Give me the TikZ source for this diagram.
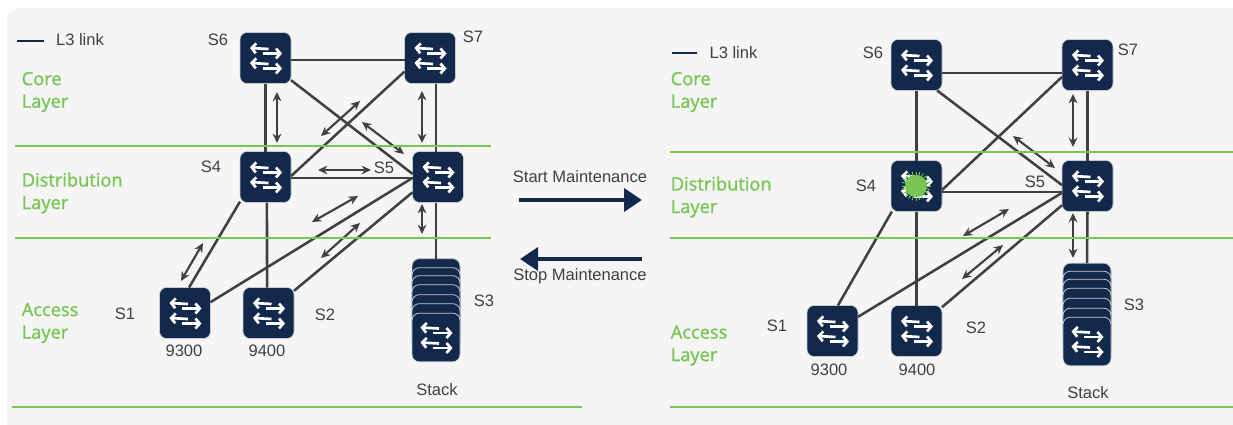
\documentclass[tikz,border=0pt]{standalone}
\usepackage{fontspec}
\setmainfont{Liberation Sans}
\newfontfamily\greenfont[FakeBold=1.2]{Open Sans}
\usetikzlibrary{arrows.meta}
\definecolor{navy}{HTML}{13294B}
\definecolor{panelgray}{HTML}{F5F5F5}
\definecolor{leaf}{HTML}{78C653}
\definecolor{ink}{HTML}{404040}
\tikzset{
  x=0.75pt,y=-0.75pt,
  switchbox/.style={rectangle,rounded corners=5.5pt,fill=navy,draw=white!75!navy,line width=0.4pt,minimum size=38.25pt,inner sep=0pt,outer sep=0pt},
  stackbox/.style={rectangle,rounded corners=5.5pt,fill=navy,draw=white!75!navy,line width=0.6pt,minimum width=36pt,minimum height=36.5pt,inner sep=0pt,outer sep=0pt},
  link/.style={draw=ink,line width=1.9pt},
  flow/.style={draw=ink,line width=1.6pt,{Stealth[length=7pt,width=6.5pt]}-{Stealth[length=7pt,width=6.5pt]}},
  tag/.style={text=ink,font=\fontsize{12.4pt}{14pt}\selectfont,inner sep=0pt},
  layertag/.style={text=leaf,align=left,anchor=west,inner sep=0pt,font=\greenfont\fontsize{13.7pt}{16.9pt}\selectfont},
  rule/.style={draw=leaf,line width=2.1pt},
  bigarrow/.style={draw=navy,line width=3.4pt,-{Triangle[length=13.5pt,width=17pt]}},
  icon/.style={draw=white,line width=2pt,-{Straight Barb[length=3.2pt,width=7.5pt]}},
}
\newcommand{\glyph}[1]{%
  \begin{scope}[shift={(#1)}]
    \draw[icon] (3,-9)--(-15.5,-10);
    \draw[icon] (-3,-4.5)--(16.5,-4.5);
    \draw[icon] (3,6)--(-15.5,5);
    \draw[icon] (-3,10.5)--(16.5,10.5);
  \end{scope}}
\newcommand{\sw}[2]{\node[switchbox] (#1) at (#2) {}; \glyph{#2}}
\newcommand{\dbl}[3]{\coordinate (#1a) at (#2); \coordinate (#1b) at (#3); \draw[flow] (#1a)--(#1b);}
\begin{document}
\begin{tikzpicture}
\useasboundingbox (0,0) rectangle (1233,425);
\fill[white] (0,0) rectangle (1233,425);
\fill[panelgray,rounded corners=9pt] (7,8) rectangle (1260,445);
\fill[white] (0,425) rectangle (1233,445);
% ---------- left
\sw{LS6}{265.5,58}\sw{LS7}{430,58}\sw{LS4}{265.5,177}\sw{LS5}{438,177}\sw{LS1}{185,313}\sw{LS2}{268.5,313}
\node[stackbox] (LS3t) at (436,283) {};
\foreach \t in {267,275,284,294,303}{\node[stackbox] at (436,\t+25) {};}
\node[stackbox] (LS3) at (436,337.5) {}; \glyph{436,337.5}
\draw[link] ([yshift=-1.5pt]LS6.east)--([yshift=-1.5pt]LS7.west);
\draw[link] (LS6.south)--(LS4.north);
\draw[link] ([xshift=4.5pt]LS7.south)--([xshift=-1.5pt]LS5.north);
\draw[link] ([yshift=-.75pt]LS4.east)--([yshift=-.75pt]LS5.west);
\draw[link] (LS6.-41)--(LS5.173);
\draw[link] (LS7.208)--(LS4.2);
\draw[link] (LS4.224)--(LS1.81);
\draw[link] ([xshift=1.1pt]LS4.south)--([xshift=-1.1pt]LS2.north);
\draw[link] (LS1.23)--(LS5.182);
\draw[link] (LS2.41)--(LS5.211);
\draw[link] ([xshift=-1.5pt]LS5.south)--(LS3t.north);
\dbl{la}{277,92}{277,143}
\dbl{lb}{422,91}{422,143}
\dbl{lc}{360,101}{321,136}
\dbl{ld}{362,122}{404,154}
\dbl{le}{318,170}{371,170}
\dbl{lf}{358,196}{312,222}
\dbl{lg}{360,223}{321,258}
\dbl{lh}{422,204}{422,234}
\dbl{li}{203,243}{181,281}
\coordinate (lega) at (17,41); \coordinate (legb) at (44,41);
\draw[draw=navy,line width=1.8pt] (lega)--(legb);
\node[tag] (lnk1) at (80,40) {L3 link};
\node[layertag] (core1) at (21.5,92) {Core\\Layer};
\node[layertag] (dist1) at (21.5,193) {Distribution\\Layer};
\node[layertag] (acc1) at (21.5,323) {Access\\Layer};
\node[tag] (t1) at (218,40) {S6};
\node[tag] (t2) at (473,37) {S7};
\node[tag] (t3) at (211,167) {S4};
\node[tag] (t4) at (384,168) {S5};
\node[tag] (t5) at (125,314) {S1};
\node[tag] (t6) at (325,315) {S2};
\node[tag] (t7) at (484,301) {S3};
\node[tag] (t8) at (184,351) {9300};
\node[tag] (t9) at (267,351) {9400};
\node[tag] (t10) at (437,390) {Stack};
\draw[rule] (15,146)--(491,146);
\draw[rule] (15,238)--(491,238);
\draw[rule] (12,407)--(582,407);
% ---------- middle
\node[tag] (start) at (580,177) {Start Maintenance};
\node[tag] (stop) at (580,276) {Stop Maintenance};
\coordinate (ma) at (519,200); \coordinate (mb) at (642,200);
\coordinate (mc) at (642,259); \coordinate (md) at (520,259);
\draw[bigarrow] (ma)--(mb);
\draw[bigarrow] (mc)--(md);
% ---------- right
\sw{RS6}{916.5,65}\sw{RS7}{1087.5,65}\sw{RS4}{916.5,186}\sw{RS5}{1087.5,186}\sw{RS1}{832.5,331}\sw{RS2}{916.5,331}
\node[stackbox] (RS3t) at (1087,287.5) {};
\foreach \t in {271,279,288,298,308}{\node[stackbox] at (1087,\t+24.5) {};}
\node[stackbox] (RS3) at (1087,341.5) {}; \glyph{1087,341.5}
\draw[link] ([yshift=-6pt]RS6.east)--([yshift=-6pt]RS7.west);
\draw[link] (RS6.south)--(RS4.north);
\draw[link] (RS7.south)--(RS5.north);
\draw[link] ([yshift=-4.5pt]RS4.east)--([yshift=-4.5pt]RS5.west);
\draw[link] (RS6.-51)--(RS5.178);
\draw[link] (RS7.205)--(RS4.-9);
\draw[link] (RS4.226)--(RS1.78);
\draw[link] (RS4.south)--(RS2.north);
\draw[link] (RS1.29)--(RS5.195);
\draw[link] (RS2.43)--(RS5.217);
\draw[link] (RS5.south)--(RS3t.north);
\dbl{ra}{1073,94}{1073,147}
\dbl{rb}{1013,136}{1055,168}
\dbl{rc}{1009,209}{963,236}
\dbl{rd}{1003,245}{962,279}
\dbl{re}{1073,213}{1073,258}
\begin{scope}[shift={(916,186)}]
  \foreach \a in {0,15,...,345}{\draw[leaf,line width=0.7pt] (0,0)--(\a:14.5);}
  \fill[leaf] (0,0) circle[radius=11];
\end{scope}
\coordinate (legc) at (672,53); \coordinate (legd) at (697,53);
\draw[draw=navy,line width=1.8pt] (legc)--(legd);
\node[tag] (lnk2) at (733.5,53) {L3 link};
\node[layertag] (core2) at (670.5,92) {Core\\Layer};
\node[layertag] (dist2) at (670.5,197) {Distribution\\Layer};
\node[layertag] (acc2) at (670.5,345.5) {Access\\Layer};
\node[tag] (u1) at (873,53) {S6};
\node[tag] (u2) at (1128,50) {S7};
\node[tag] (u3) at (866,186) {S4};
\node[tag] (u4) at (1035,182) {S5};
\node[tag] (u5) at (777,326) {S1};
\node[tag] (u6) at (976,328) {S2};
\node[tag] (u7) at (1134,305) {S3};
\node[tag] (u8) at (829,370) {9300};
\node[tag] (u9) at (917,370) {9400};
\node[tag] (u10) at (1088,393) {Stack};
\draw[rule] (670,152)--(1233,152);
\draw[rule] (670,238)--(1233,238);
\draw[rule] (670,407)--(1233,407);
\end{tikzpicture}
\end{document}
